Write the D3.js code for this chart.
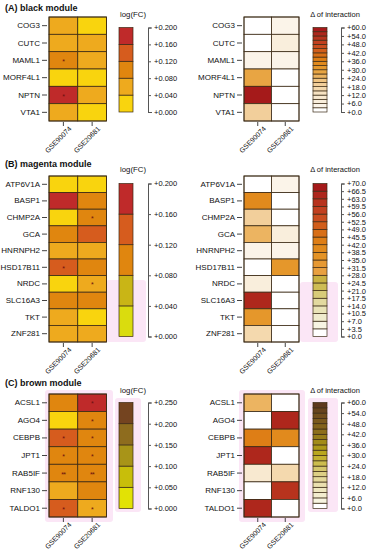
<!DOCTYPE html>
<html>
<head>
<meta charset="utf-8">
<script src="https://cdn.jsdelivr.net/npm/d3@7"></script>
<style>
  body { margin: 0; background: #fff; }
  svg text { font-family: "Liberation Sans", Arial, sans-serif; }
</style>
</head>
<body>
<svg id="Chart"></svg>
<script>
// data
let datasets = ["GSE90074", "GSE20681"]

let genesA = ["COG3", "CUTC", "MAML1", "MORF4L1", "NPTN", "VTA1"]
let fcA = [[0.06, 0.02], [0.06, 0.05], [0.10, 0.06], [0.02, 0.02], [0.18, 0.06], [0.06, 0.03]]
let starsA = [["", ""], ["", ""], ["*", ""], ["", ""], ["*", ""], ["", ""]]
let deltaA = [[0, 4], [0, 7], [4, 4], [28, 0], [57, 0], [20, 0]]

let genesB = ["ATP6V1A", "BASP1", "CHMP2A", "GCA", "HNRNPH2", "HSD17B11", "NRDC", "SLC16A3", "TKT", "ZNF281"]
let fcB = [[0.03, 0.03], [0.18, 0.11], [0.03, 0.11], [0.10, 0.14], [0.06, 0.06], [0.14, 0.10], [0.03, 0.07], [0.10, 0.10], [0.06, 0.03], [0.06, 0.06]]
let starsB = [["", ""], ["", ""], ["", "*"], ["", ""], ["", ""], ["*", ""], ["", "*"], ["", ""], ["", ""], ["", ""]]
let deltaB = [[0, 5], [40, 0], [22, 0], [30, 8], [6, 6], [0, 36], [10, 0], [63, 0], [38, 0], [20, 0]]

let genesC = ["ACSL1", "AGO4", "CEBPB", "JPT1", "RAB5IF", "RNF130", "TALDO1"]
let fcC = [[0.13, 0.22], [0.03, 0.12], [0.17, 0.12], [0.13, 0.13], [0.12, 0.12], [0.07, 0.11], [0.17, 0.08]]
let starsC = [["", "*"], ["", "*"], ["*", "*"], ["*", "*"], ["**", "**"], ["", ""], ["*", "*"]]
let deltaC = [[26, 0], [0, 55], [38, 35], [55, 0], [9, 15], [0, 52], [56, 0]]

// legend tick labels
let fcTicksAB = [0, 0.04, 0.08, 0.12, 0.16, 0.20]
let fcTicksC = [0, 0.05, 0.10, 0.15, 0.20, 0.25]
let deltaTicks60 = d3.range(0, 60.1, 6)
let deltaTicks70 = d3.range(0, 70.1, 3.5)

// palettes
let fcColors = ["#f9d40e", "#eeaa1e", "#e0860f", "#d65c1e", "#bf2a2a"]
let fcColorsLegB = ["#dadc0e", "#c9b516", "#e0860f", "#d65c1e", "#bf2a2a"]
let fcColorsLegC = ["#e2e205", "#c8be0a", "#a89418", "#8e6c1e", "#744420"]

let redRamp = d3.scaleLinear()
  .domain([0, 0.06, 0.2, 0.35, 0.45, 0.55, 0.65, 0.8, 1])
  .range(["#ffffff", "#fbf3e6", "#f6e4c6", "#f1c98e", "#eaac4e", "#e39020", "#dd7a14", "#c84a20", "#a51a1a"])
let oliveRampB = d3.scaleLinear()
  .domain([0, 0.06, 0.2, 0.33, 0.38, 0.42, 0.55, 0.65, 0.8, 1])
  .range(["#ffffff", "#f6f2df", "#e4dca6", "#cbb84a", "#c8b040", "#e8a040", "#e39020", "#dd7a14", "#c84a20", "#a51a1a"])
let brownRamp = d3.scaleLinear()
  .domain([0, 0.06, 0.2, 0.35, 0.5, 0.6, 0.75, 1])
  .range(["#ffffff", "#f6f2dc", "#ece2b4", "#d8ca78", "#c0ac22", "#a89418", "#8a6a1c", "#5e3a1e"])

function binColors(ramp, n) {
  return d3.range(n).map(i => ramp(i / (n - 1)))
}

function getConfig() {
  let width = 374, height = 550
  let container = d3.select("#Chart").attr("width", width).attr("height", height)
  return { width, height, container }
}

function binned(colors, max) {
  let step = max / colors.length
  return v => colors[Math.min(colors.length - 1, Math.floor(v / step + 1e-9))]
}

function drawHeatmap(container, o) {
  let yScale = d3.scaleBand().domain(o.genes).range([o.y0, o.y1])
  let xScale = d3.scaleBand().domain(datasets).range([o.x0, o.x1])
  let g = container.append("g")

  let cells = []
  o.genes.forEach((gene, i) => datasets.forEach((ds, j) => {
    cells.push({ gene, ds, value: o.values[i][j], star: o.stars ? o.stars[i][j] : "" })
  }))

  g.selectAll("rect.cell")
    .data(cells)
    .enter().append("rect")
    .attr("class", "cell")
    .attr("x", d => xScale(d.ds))
    .attr("y", d => yScale(d.gene))
    .attr("width", xScale.bandwidth())
    .attr("height", yScale.bandwidth())
    .attr("fill", d => o.color(d.value))
    .attr("stroke", "#3b2a14")
    .attr("stroke-width", 0.8)

  g.selectAll("text.star")
    .data(cells.filter(d => d.star))
    .enter().append("text")
    .attr("x", d => xScale(d.ds) + xScale.bandwidth() / 2)
    .attr("y", d => yScale(d.gene) + yScale.bandwidth() / 2 + 3.5)
    .attr("text-anchor", "middle")
    .style("font-size", "7px")
    .style("letter-spacing", "-0.5px")
    .attr("fill", "#6a1010")
    .text(d => d.star)

  g.append("rect")
    .attr("x", o.x0).attr("y", o.y0)
    .attr("width", o.x1 - o.x0).attr("height", o.y1 - o.y0)
    .attr("fill", "none").attr("stroke", "#3b2a14").attr("stroke-width", 0.8)

  // gene labels
  let axisY = d3.axisLeft(yScale).tickSize(5).tickPadding(2)
  let ay = container.append("g")
    .attr("transform", `translate(${o.x0 - 2},0)`)
    .call(axisY)
  ay.select(".domain").remove()
  ay.selectAll("line").attr("stroke", "#444")
  ay.selectAll("text").style("font-size", "8px").attr("fill", "#111")

  // dataset labels, rotated like R's srt = 45
  let axisX = d3.axisBottom(xScale).tickSize(4).tickPadding(0)
  let ax = container.append("g")
    .attr("transform", `translate(0,${o.y1 + 1})`)
    .call(axisX)
  ax.select(".domain").remove()
  ax.selectAll("line").attr("stroke", "#444")
  ax.selectAll("text")
    .style("font-size", "7px")
    .attr("fill", "#111")
    .attr("text-anchor", "end")
    .attr("y", 0)
    .attr("dy", "0.35em")
    .attr("transform", "translate(7,5.5) rotate(-45)")
}

function drawLegend(container, o) {
  let n = o.colors.length
  let step = o.max / n
  let y = d3.scaleLinear().domain([0, o.max]).range([o.y1, o.y0])
  let g = container.append("g")

  g.selectAll("rect")
    .data(o.colors)
    .enter().append("rect")
    .attr("x", o.x0)
    .attr("y", (d, i) => y(step * (i + 1)))
    .attr("width", o.x1 - o.x0)
    .attr("height", (d, i) => y(step * i) - y(step * (i + 1)))
    .attr("fill", d => d)
    .attr("stroke", "#3b2a14")
    .attr("stroke-width", 0.7)

  let axis = d3.axisRight(y)
    .tickValues(o.ticks)
    .tickSize(3)
    .tickSizeOuter(4)
    .tickPadding(3)
    .tickFormat(d => "+" + d.toFixed(o.digits))
  let ag = container.append("g")
    .attr("transform", `translate(${o.axisX},0)`)
    .call(axis)
  ag.selectAll("path, line").attr("stroke", "#555")
  ag.selectAll("text").style("font-size", "7.5px").attr("fill", "#111")

  container.append("text")
    .attr("x", o.titleX)
    .attr("y", o.titleY)
    .attr("text-anchor", "middle")
    .style("font-size", o.titleSize)
    .attr("fill", "#111")
    .text(o.title)
}

function drawHaze(container, boxes) {
  container.selectAll("rect.haze")
    .data(boxes)
    .enter().append("rect")
    .attr("class", "haze")
    .attr("x", d => d[0]).attr("y", d => d[1])
    .attr("width", d => d[2]).attr("height", d => d[3])
    .attr("rx", 3)
    .attr("fill", "#fbe6f6")
}

function drawPanel(container, p) {
  container.append("text")
    .attr("x", 5)
    .attr("y", p.titleY)
    .style("font-size", "9px")
    .style("font-weight", "bold")
    .attr("fill", "#111")
    .text(p.title)

  drawHeatmap(container, {
    x0: 49, x1: 106.5, y0: p.y0, y1: p.y1,
    genes: p.genes, values: p.fc, stars: p.stars,
    color: binned(fcColors, p.fcMax)
  })
  drawLegend(container, {
    x0: 119, x1: 133, y0: p.ly0, y1: p.ly1, axisX: 148,
    max: p.fcMax, colors: p.fcLegend, ticks: p.fcTicks, digits: 3,
    title: "log(FC)", titleX: 133, titleY: p.legTitleY, titleSize: "7.8px"
  })

  let deltaBins = binColors(redRamp, 20)
  drawHeatmap(container, {
    x0: 244, x1: 299, y0: p.y0, y1: p.y1,
    genes: p.genes, values: p.delta,
    color: binned(deltaBins, p.deltaMax)
  })
  drawLegend(container, {
    x0: 313, x1: 327, y0: p.ly0, y1: p.ly1, axisX: 341,
    max: p.deltaMax, colors: binColors(p.deltaRamp, 20), ticks: p.deltaTicks, digits: 1,
    title: "\u0394 of interaction", titleX: 335, titleY: p.legTitleY, titleSize: "7.5px"
  })
}

function showData() {
  let config = getConfig()
  let container = config.container

  // soft pink halo visible around the lower panels
  drawHaze(container, [
    [106, 280, 40, 62], [300, 282, 38, 60],
    [45, 390, 68, 132], [115, 398, 26, 114],
    [239, 390, 66, 132], [308, 398, 30, 114]
  ])

  drawPanel(container, {
    title: "(A) black module", titleY: 11, legTitleY: 17,
    y0: 17, y1: 121, ly0: 27.5, ly1: 112,
    genes: genesA, fc: fcA, stars: starsA, delta: deltaA,
    fcMax: 0.2, fcLegend: fcColors, fcTicks: fcTicksAB,
    deltaMax: 60, deltaRamp: redRamp, deltaTicks: deltaTicks60
  })
  drawPanel(container, {
    title: "(B) magenta module", titleY: 167, legTitleY: 172,
    y0: 176, y1: 342, ly0: 183.5, ly1: 336.5,
    genes: genesB, fc: fcB, stars: starsB, delta: deltaB,
    fcMax: 0.2, fcLegend: fcColorsLegB, fcTicks: fcTicksAB,
    deltaMax: 70, deltaRamp: oliveRampB, deltaTicks: deltaTicks70
  })
  drawPanel(container, {
    title: "(C) brown module", titleY: 386, legTitleY: 393,
    y0: 394, y1: 517, ly0: 402.5, ly1: 508.5,
    genes: genesC, fc: fcC, stars: starsC, delta: deltaC,
    fcMax: 0.25, fcLegend: fcColorsLegC, fcTicks: fcTicksC,
    deltaMax: 60, deltaRamp: brownRamp, deltaTicks: deltaTicks60
  })
}

showData()
</script>
</body>
</html>
